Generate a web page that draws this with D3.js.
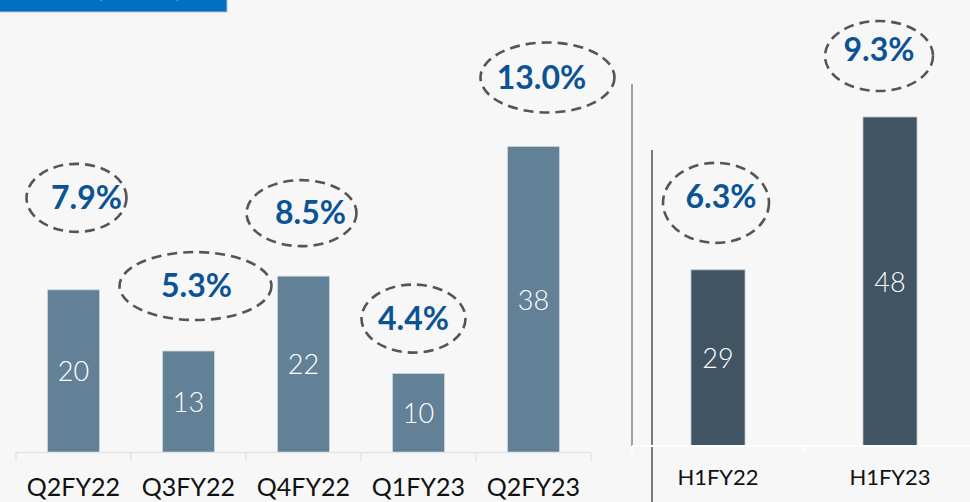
<!DOCTYPE html>
<html lang="en">
<head>
<meta charset="UTF-8">
<title>Quarterly and half-year bars</title>
<script src="https://d3js.org/d3.v7.min.js"></script>
<style>
	body, html {
		margin: 0;
		padding: 0;
		width: 100%;
		height: 100%;
		overflow: hidden;
		background: #f7f7f7;
	}
	svg {
		display: block;
	}
	.bar-value {
		font-family: Lato, "Open Sans", sans-serif;
		font-weight: 300;
		fill: #fff;
		text-anchor: middle;
	}
	.pct {
		font-family: Lato, "Open Sans", sans-serif;
		font-weight: 700;
		fill: #0b5394;
		text-anchor: middle;
	}
	.ring {
		fill: none;
		stroke: #555;
		stroke-width: 2.6;
		stroke-dasharray: 10 6;
	}
	.cat {
		font-family: Lato, "Open Sans", sans-serif;
		font-weight: 400;
		fill: #111;
	}
</style>
</head>
<body>
<svg></svg>
<script>
	// quarterly values
	const quarters = ["Q2FY22", "Q3FY22", "Q4FY22", "Q1FY23", "Q2FY23"];
	const quarterValues = [20.2, 12.6, 21.9, 9.8, 38.0];
	const quarterMargins = ["7.9%", "5.3%", "8.5%", "4.4%", "13.0%"];

	// half-year values
	const halves = ["H1FY22", "H1FY23"];
	const halfValues = [29, 48];
	const halfMargins = ["6.3%", "9.3%"];

	// callout layout tweaks (dx of ring, gap above bar, ring radii, text dx)
	const quarterRings = [
		{dx: 3, gap: 92, rx: 50, ry: 34, tx: 10},
		{dx: 7, gap: 65, rx: 76, ry: 34, tx: 1},
		{dx: -2, gap: 63, rx: 55, ry: 33, tx: 9},
		{dx: -5, gap: 55, rx: 52, ry: 34, tx: 0},
		{dx: 14, gap: 69, rx: 67, ry: 35, tx: -6}
	];
	const halfRings = [
		{dx: -2, gap: 67, rx: 53, ry: 40, tx: 5},
		{dx: -11, gap: 61, rx: 54, ry: 35, tx: 0}
	];

	const width = 970, height = 502;
	const svg = d3.select("svg").attr("width", width).attr("height", height);

	const fmt = d3.format(".0f");

	// header tab, mostly cut off at the top
	const header = svg.append("g");
	header.append("rect")
		.attr("x", -2).attr("y", -2)
		.attr("width", 229).attr("height", 14)
		.attr("fill", "#0070c0")
		.attr("stroke", "#b8c4cc")
		.attr("stroke-width", 1);
	header.append("text")
		.attr("x", 14).attr("y", -3)
		.attr("font-family", "Lato, sans-serif")
		.attr("font-weight", 700)
		.attr("font-size", 22)
		.attr("fill", "#fff")
		.text("EBITDA (₹ Crore)");

	// ---------- left panel: quarters ----------
	const leftBase = 452.5;
	const x = d3.scaleBand()
		.domain(quarters)
		.range([16, 591])
		.paddingInner(0.55)
		.paddingOuter(0.275);
	const y = d3.scaleLinear()
		.domain([0, 38])
		.range([leftBase, 146.5]);

	const left = svg.append("g");

	left.selectAll(".bar")
		.data(quarters)
		.enter().append("rect")
		.attr("class", "bar")
		.attr("x", d => x(d))
		.attr("width", x.bandwidth())
		.attr("y", (d, i) => y(quarterValues[i]))
		.attr("height", (d, i) => leftBase - y(quarterValues[i]))
		.attr("fill", "#628096")
		.attr("stroke", "#c9d3da")
		.attr("stroke-width", 0.8);

	left.selectAll(".bar-value")
		.data(quarters)
		.enter().append("text")
		.attr("class", "bar-value")
		.attr("font-size", 27)
		.attr("x", d => x(d) + x.bandwidth() / 2)
		.attr("y", (d, i) => (y(quarterValues[i]) + leftBase) / 2 + 10)
		.text((d, i) => fmt(quarterValues[i]));

	// axis line + boundary ticks
	const leftAxis = left.append("g");
	leftAxis.append("line")
		.attr("x1", x.range()[0]).attr("x2", x.range()[1])
		.attr("y1", leftBase).attr("y2", leftBase)
		.attr("stroke", "#e4e4e4").attr("stroke-width", 1.5);
	leftAxis.selectAll(".tick-mark")
		.data(d3.range(quarters.length + 1))
		.enter().append("line")
		.attr("x1", i => x.range()[0] + i * x.step())
		.attr("x2", i => x.range()[0] + i * x.step())
		.attr("y1", leftBase).attr("y2", leftBase + 9)
		.attr("stroke", "#e4e4e4").attr("stroke-width", 1.5);

	left.selectAll(".cat")
		.data(quarters)
		.enter().append("text")
		.attr("class", "cat")
		.attr("font-size", 25)
		.attr("text-anchor", "middle")
		.attr("x", d => x(d) + x.bandwidth() / 2)
		.attr("y", 496)
		.text(d => d);

	// margin callouts
	left.selectAll(".ring")
		.data(quarters)
		.enter().append("ellipse")
		.attr("class", "ring")
		.attr("cx", (d, i) => x(d) + x.bandwidth() / 2 + quarterRings[i].dx)
		.attr("cy", (d, i) => y(quarterValues[i]) - quarterRings[i].gap)
		.attr("rx", (d, i) => quarterRings[i].rx)
		.attr("ry", (d, i) => quarterRings[i].ry);

	left.selectAll(".pct")
		.data(quarters)
		.enter().append("text")
		.attr("class", "pct")
		.attr("font-size", 32)
		.attr("x", (d, i) => x(d) + x.bandwidth() / 2 + quarterRings[i].dx + quarterRings[i].tx)
		.attr("y", (d, i) => y(quarterValues[i]) - quarterRings[i].gap + 11)
		.text((d, i) => quarterMargins[i]);

	// ---------- right panel: half years ----------
	const rightBase = 446;
	const xr = d3.scaleBand()
		.domain(halves)
		.range([632, 976])
		.paddingInner(0.686)
		.paddingOuter(0.343);
	const yr = d3.scaleLinear()
		.domain([7.1, 48])
		.range([rightBase, 117]);

	const right = svg.append("g");

	// divider lines
	right.append("line")
		.attr("x1", 632).attr("x2", 632)
		.attr("y1", 84).attr("y2", rightBase)
		.attr("stroke", "#8a8a8a").attr("stroke-width", 1.6);
	right.append("line")
		.attr("x1", 652).attr("x2", 652)
		.attr("y1", 150).attr("y2", height)
		.attr("stroke", "#7a7a7a").attr("stroke-width", 2);

	right.selectAll(".bar")
		.data(halves)
		.enter().append("rect")
		.attr("class", "bar")
		.attr("x", d => xr(d))
		.attr("width", xr.bandwidth())
		.attr("y", (d, i) => yr(halfValues[i]))
		.attr("height", (d, i) => rightBase - yr(halfValues[i]))
		.attr("fill", "#405464")
		.attr("stroke", "#b9c3ca")
		.attr("stroke-width", 0.8);

	right.selectAll(".bar-value")
		.data(halves)
		.enter().append("text")
		.attr("class", "bar-value")
		.attr("font-size", 27)
		.attr("x", d => xr(d) + xr.bandwidth() / 2)
		.attr("y", (d, i) => (yr(halfValues[i]) + rightBase) / 2 + 10)
		.text((d, i) => fmt(halfValues[i]));

	const rightAxis = right.append("g");
	rightAxis.append("line")
		.attr("x1", xr.range()[0]).attr("x2", width)
		.attr("y1", rightBase).attr("y2", rightBase)
		.attr("stroke", "#ffffff").attr("stroke-width", 2);
	rightAxis.selectAll(".tick-mark")
		.data(d3.range(halves.length + 1))
		.enter().append("line")
		.attr("x1", i => xr.range()[0] + i * xr.step())
		.attr("x2", i => xr.range()[0] + i * xr.step())
		.attr("y1", rightBase).attr("y2", rightBase + 7)
		.attr("stroke", "#ffffff").attr("stroke-width", 2);

	right.selectAll(".cat")
		.data(halves)
		.enter().append("text")
		.attr("class", "cat")
		.attr("font-size", 22)
		.attr("text-anchor", "middle")
		.attr("x", d => xr(d) + xr.bandwidth() / 2)
		.attr("y", 485)
		.text(d => d);

	right.selectAll(".ring")
		.data(halves)
		.enter().append("ellipse")
		.attr("class", "ring")
		.attr("cx", (d, i) => xr(d) + xr.bandwidth() / 2 + halfRings[i].dx)
		.attr("cy", (d, i) => yr(halfValues[i]) - halfRings[i].gap)
		.attr("rx", (d, i) => halfRings[i].rx)
		.attr("ry", (d, i) => halfRings[i].ry);

	right.selectAll(".pct")
		.data(halves)
		.enter().append("text")
		.attr("class", "pct")
		.attr("font-size", 32)
		.attr("x", (d, i) => xr(d) + xr.bandwidth() / 2 + halfRings[i].dx + halfRings[i].tx)
		.attr("y", (d, i) => yr(halfValues[i]) - halfRings[i].gap + 5)
		.text((d, i) => halfMargins[i]);
</script>
</body>
</html>
